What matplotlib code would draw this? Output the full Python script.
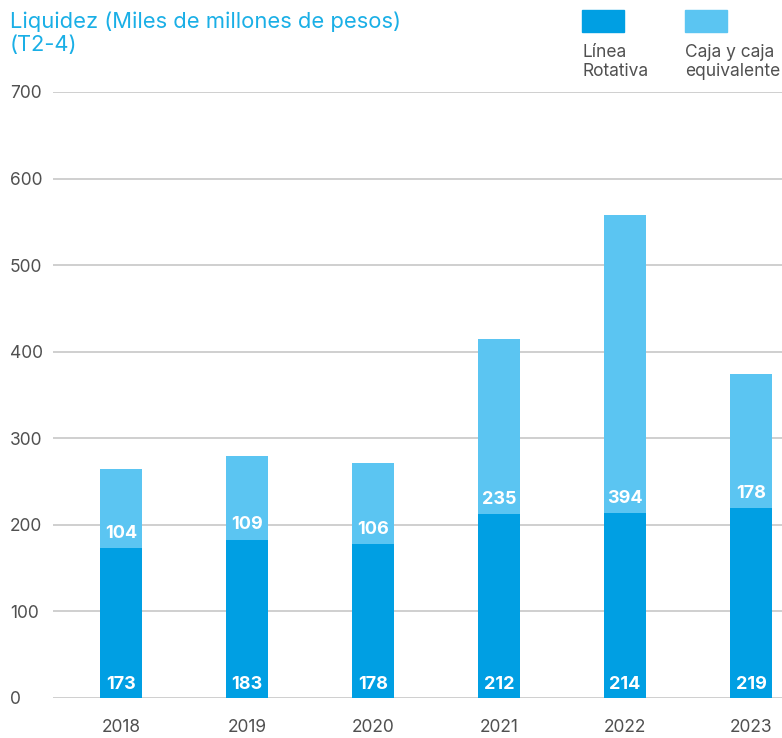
import matplotlib
matplotlib.use("Agg")
import matplotlib.pyplot as plt
from matplotlib.patches import Rectangle

plt.rcParams["font.family"] = ["Inter", "DejaVu Sans"]

years = ["2018", "2019", "2020", "2021", "2022", "2023"]
linea_rotativa = [173, 183, 178, 212, 214, 219]
# drawn heights of the light segment as they appear in the picture
caja_heights = [91, 96, 93, 203, 344, 155]
# printed labels of the light segment
caja_labels = [104, 109, 106, 235, 394, 178]
y_ticks = [0, 100, 200, 300, 400, 500, 600, 700]

dark_blue = "#009FE3"
light_blue = "#5BC5F2"
title_color = "#1AAFE6"
text_gray = "#505050"

fig = plt.figure(figsize=(7.82, 7.38), dpi=100)
ax = fig.add_axes([53 / 782, 1 - 698 / 738, 1 - 53 / 782, 606 / 738])

x = list(range(len(years)))
ax.bar(x, linea_rotativa, width=0.333, color=dark_blue, zorder=3)
ax.bar(x, caja_heights, width=0.333, bottom=linea_rotativa, color=light_blue, zorder=3)

for i in range(len(years)):
    ax.text(x[i], 16, str(linea_rotativa[i]), ha="center", va="center",
            color="white", fontsize=13, fontweight="bold", zorder=4)
    ax.text(x[i], linea_rotativa[i] + 17, str(caja_labels[i]), ha="center", va="center",
            color="white", fontsize=13, fontweight="bold", zorder=4)

ax.set_xlim(-0.54, 5.246)
ax.set_ylim(0, 700)
ax.set_yticks(y_ticks)
ax.set_xticks(x)
ax.set_xticklabels(years)
ax.yaxis.grid(True, color="#cccccc", linewidth=1.3, zorder=0)
ax.set_axisbelow(True)
for spine in ax.spines.values():
    spine.set_visible(False)
ax.tick_params(axis="both", length=0, colors=text_gray, labelsize=12.5)
ax.tick_params(axis="x", pad=15)
ax.tick_params(axis="y", pad=31)
for label in ax.get_yticklabels():
    label.set_horizontalalignment("left")

fig.text(10 / 782, 1 - 22 / 738, "Liquidez (Miles de millones de pesos)", color=title_color,
         fontsize=15.8, ha="left", va="center")
fig.text(10 / 782, 1 - 45 / 738, "(T2-4)", color=title_color,
         fontsize=15.8, ha="left", va="center")

fig.add_artist(Rectangle((582 / 782, 1 - 32 / 738), 42 / 782, 22 / 738,
                         transform=fig.transFigure, color=dark_blue))
fig.add_artist(Rectangle((685 / 782, 1 - 32 / 738), 42 / 782, 22 / 738,
                         transform=fig.transFigure, color=light_blue))
fig.text(582 / 782, 1 - 44 / 738, "Línea\nRotativa", color=text_gray, fontsize=12.5,
         ha="left", va="top", linespacing=1.15)
fig.text(685 / 782, 1 - 44 / 738, "Caja y caja\nequivalente", color=text_gray, fontsize=12.5,
         ha="left", va="top", linespacing=1.15)

fig.savefig("out.png", dpi=100)
